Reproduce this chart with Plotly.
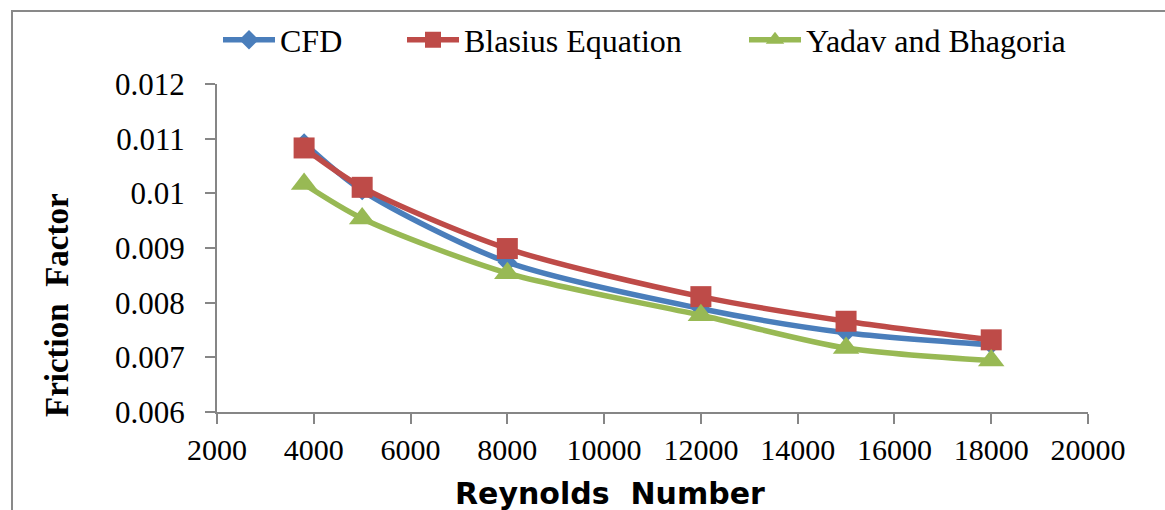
import plotly.graph_objects as go

reynolds = [3800, 5000, 8000, 12000, 15000, 18000]
cfd = [0.01092, 0.01005, 0.00874, 0.00789, 0.00745, 0.00723]
blasius = [0.01083, 0.01011, 0.00899, 0.00811, 0.00766, 0.00732]
yadav = [0.01017, 0.00954, 0.00854, 0.00777, 0.00717, 0.00694]

series_names = ["CFD", "Blasius Equation", "Yadav and Bhagoria"]
x_ticks = [2000, 4000, 6000, 8000, 10000, 12000, 14000, 16000, 18000, 20000]
y_ticks = [0.006, 0.007, 0.008, 0.009, 0.01, 0.011, 0.012]
y_tick_text = ["0.006", "0.007", "0.008", "0.009", "0.01", "0.011", "0.012"]

colors = ["#4A7EBB", "#BE4B48", "#98B954"]
symbols = ["diamond", "square", "triangle-up"]
sizes = [15, 21, 23]
legends = ["legend", "legend2", "legend3"]

W, H = 1165, 510
L, R, T, B = 217, 77, 84, 98
pw, ph = W - L - R, H - T - B


def px_x(p):
    return (p - L) / pw


def px_y(p):
    return (H - B - p) / ph


fig = go.Figure()
for name, vals, c, s, sz, lg in zip(series_names, [cfd, blasius, yadav], colors, symbols, sizes, legends):
    fig.add_trace(go.Scatter(
        x=reynolds, y=vals, name=name, mode="lines+markers",
        line=dict(color=c, width=5.5, shape="spline", smoothing=0.8),
        marker=dict(symbol=s, size=sz, color=c),
        legend=lg, showlegend=True,
    ))

serif = "Liberation Serif, Times New Roman, serif"
axis_color = "#868686"

legend_common = dict(
    visible=True,
    orientation="h", yanchor="middle", y=px_y(40), xanchor="left",
    font=dict(family=serif, size=32, color="black"),
    bgcolor="rgba(0,0,0,0)", itemwidth=52, tracegroupgap=0,
)

fig.update_layout(
    width=W, height=H,
    showlegend=True,
    margin=dict(l=L, r=R, t=T, b=B),
    paper_bgcolor="white", plot_bgcolor="white",
    legend=dict(x=px_x(218), **legend_common),
    legend2=dict(x=px_x(402), **legend_common),
    legend3=dict(x=px_x(744), **legend_common),
    xaxis=dict(
        range=[2000, 20000], tickvals=x_ticks, ticktext=[str(v) for v in x_ticks],
        showgrid=False, zeroline=False, showline=True, linecolor=axis_color, linewidth=2,
        ticks="outside", ticklen=10, tickwidth=1.5, tickcolor=axis_color,
        tickfont=dict(family=serif, size=30, color="black"), ticklabelstandoff=0,
    ),
    yaxis=dict(
        range=[0.006, 0.012], tickvals=y_ticks, ticktext=y_tick_text,
        showgrid=False, zeroline=False, showline=True, linecolor=axis_color, linewidth=2,
        ticks="outside", ticklen=10, tickwidth=1.5, tickcolor=axis_color,
        tickfont=dict(family=serif, size=31, color="black"), ticklabelstandoff=14,
    ),
    shapes=[dict(
        type="rect", xref="paper", yref="paper",
        x0=px_x(12), y0=px_y(560), x1=px_x(1200), y1=px_y(11),
        line=dict(color="#898989", width=2), fillcolor="rgba(0,0,0,0)", layer="below",
    )],
    annotations=[
        dict(text="<b>Friction  Factor</b>", xref="paper", yref="paper",
             x=px_x(57), y=px_y(305), xanchor="center", yanchor="middle",
             textangle=-90, showarrow=False,
             font=dict(family=serif, size=33, color="black")),
        dict(text="<b>Reynolds  Number</b>", xref="paper", yref="paper",
             x=px_x(610), y=px_y(493), xanchor="center", yanchor="middle",
             showarrow=False,
             font=dict(family="DejaVu Sans, Arial, sans-serif", size=30, color="black")),
    ],
)

fig.write_html("out.html")
